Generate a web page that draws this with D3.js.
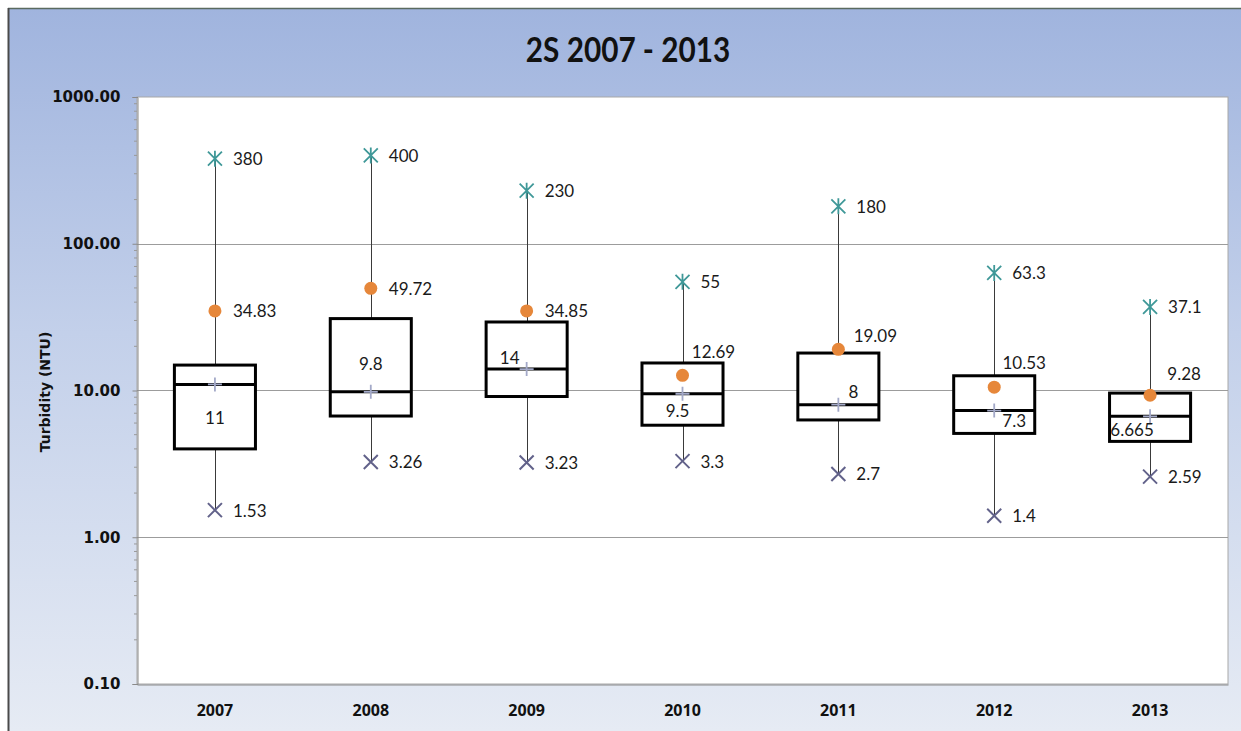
<!DOCTYPE html>
<html><head><meta charset="utf-8">
<script src="https://cdn.jsdelivr.net/npm/d3@7"></script>
<style>
html,body{margin:0;padding:0;background:#fff;}
svg{display:block;}
</style></head>
<body>
<svg id="chart" width="1241" height="731"></svg>
<script>
// ---- data ----
const categories = ["2007","2008","2009","2010","2011","2012","2013"];
const maxValues = [380, 400, 230, 55, 180, 63.3, 37.1];
const q3Values = [14.9, 30.9, 29.3, 15.4, 18.0, 12.6, 9.6];
const medianValues = [11, 9.8, 14, 9.5, 8, 7.3, 6.665];
const q1Values = [4.0, 6.7, 9.1, 5.8, 6.3, 5.1, 4.5];
const minValues = [1.53, 3.26, 3.23, 3.3, 2.7, 1.4, 2.59];
const meanValues = [34.83, 49.72, 34.85, 12.69, 19.09, 10.53, 9.28];
const yTickValues = [0.1, 1, 10, 100, 1000];
const yTickLabels = ["0.10", "1.00", "10.00", "100.00", "1000.00"];
const titleText = "2S 2007 - 2013";
const yTitle = "Turbidity (NTU)";
// label layout (offsets in px relative to marker)
const meanLabelOffset = [[18,0],[18,0],[18,0],[31,-24],[37,-14],[30,-25],[34,-22]];
const medianLabelOffset = [[0,33],[0,-28],[-17,-12],[-5,17],[15,-13],[20,10],[-18,13]];

const svg = d3.select("#chart");
const W = 1241, H = 731;
const plot = {x0:137, x1:1228, y0:97, y1:684};

// background
const defs = svg.append("defs");
const grad = defs.append("linearGradient").attr("id","bg").attr("x1",0).attr("y1",0).attr("x2",0).attr("y2",1);
grad.append("stop").attr("offset","0%").attr("stop-color","#a0b4de");
grad.append("stop").attr("offset","45%").attr("stop-color","#c3d0ea");
grad.append("stop").attr("offset","100%").attr("stop-color","#e6ebf4");
svg.append("rect").attr("x",0).attr("y",0).attr("width",W).attr("height",H).attr("fill","#fff");
svg.append("rect").attr("x",8).attr("y",8).attr("width",W-8).attr("height",H-8).attr("fill","url(#bg)");
svg.append("line").attr("x1",8).attr("x2",W).attr("y1",8.5).attr("y2",8.5).attr("stroke","#5a6a60").attr("stroke-width",1.5);
svg.append("line").attr("x1",8.5).attr("x2",8.5).attr("y1",8).attr("y2",H).attr("stroke","#4a4a4a").attr("stroke-width",2);

// plot area
svg.append("rect").attr("x",plot.x0).attr("y",plot.y0).attr("width",plot.x1-plot.x0).attr("height",plot.y1-plot.y0)
  .attr("fill","#fff").attr("stroke","#a8a8a8").attr("stroke-width",1);

const x = d3.scaleBand().domain(categories).range([plot.x0, plot.x1]).padding(0);
const y = d3.scaleLog().domain([0.1, 1000]).range([plot.y1, plot.y0]);

// gridlines
svg.append("g").selectAll("line").data(yTickValues.filter(v => v > 0.1 && v < 1000)).join("line")
  .attr("x1",plot.x0).attr("x2",plot.x1)
  .attr("y1",d=>Math.round(y(d))+0.5).attr("y2",d=>Math.round(y(d))+0.5)
  .attr("stroke","#9c9c9c").attr("stroke-width",1);

// y axis
const yAxis = d3.axisLeft(y).tickValues(yTickValues).tickFormat((d,i)=>yTickLabels[i]).tickSize(5).tickPadding(12);
const gy = svg.append("g").attr("transform",`translate(${plot.x0+0.5},0)`).call(yAxis);
gy.select(".domain").attr("stroke","#8a8a8a");
gy.selectAll(".tick line").attr("stroke","#8a8a8a");
gy.selectAll(".tick text").attr("font-family","DejaVu Sans").attr("font-weight","bold").attr("font-size","15px").attr("fill","#111");
// minor ticks
const minor = [];
for (let e = -1; e < 3; e++) for (let m = 2; m <= 9; m++) minor.push(m*Math.pow(10,e));
svg.append("g").selectAll("line").data(minor).join("line")
  .attr("x1",plot.x0-3).attr("x2",plot.x0)
  .attr("y1",d=>y(d)).attr("y2",d=>y(d)).attr("stroke","#9a9a9a").attr("stroke-width",1);

// x axis
const xAxis = d3.axisBottom(x).tickSize(0).tickPadding(20);
const gx = svg.append("g").attr("transform",`translate(0,${plot.y1+0.5})`).call(xAxis);
gx.select(".domain").attr("stroke","#8a8a8a");
gx.selectAll(".tick text").attr("font-family","Open Sans").attr("font-weight","bold").attr("font-size","16px").attr("fill","#111");

// titles
svg.append("text").attr("transform","translate(628,62) scale(0.85,1)").attr("text-anchor","middle")
  .attr("font-family","Lato").attr("font-weight","bold").attr("font-size","35px").attr("fill","#111").text(titleText);
svg.append("text").attr("transform","translate(50,392) rotate(-90)").attr("text-anchor","middle")
  .attr("font-family","DejaVu Sans").attr("font-weight","bold").attr("font-size","14px").attr("fill","#111").text(yTitle);

const data = categories.map((c,i)=>({c, i, max:maxValues[i], q3:q3Values[i], med:medianValues[i], q1:q1Values[i], min:minValues[i], mean:meanValues[i]}));
const cx = d => x(d.c) + x.bandwidth()/2;
const bw = x.bandwidth()*0.52;
const g = svg.append("g");

// whiskers
g.selectAll(".whisker").data(data).join("line")
  .attr("x1",d=>Math.round(cx(d))+0.5).attr("x2",d=>Math.round(cx(d))+0.5)
  .attr("y1",d=>y(d.max)).attr("y2",d=>y(d.min))
  .attr("stroke","#3a3a3a").attr("stroke-width",1);
// boxes
g.selectAll(".box").data(data).join("rect")
  .attr("x",d=>cx(d)-bw/2).attr("width",bw)
  .attr("y",d=>y(d.q3)).attr("height",d=>y(d.q1)-y(d.q3))
  .attr("fill","#fff").attr("stroke","#000").attr("stroke-width",3);
// median line
g.selectAll(".med").data(data).join("line")
  .attr("x1",d=>cx(d)-bw/2).attr("x2",d=>cx(d)+bw/2)
  .attr("y1",d=>y(d.med)).attr("y2",d=>y(d.med))
  .attr("stroke","#000").attr("stroke-width",3);
// median plus marker
const pl = 7;
g.selectAll(".medplus").data(data).join("path")
  .attr("d",d=>{const X=cx(d),Y=y(d.med);return `M${X-pl},${Y}H${X+pl}M${X},${Y-pl}V${Y+pl}`;})
  .attr("stroke","#a3a9c8").attr("stroke-width",1.8).attr("fill","none");
// mean dots
g.selectAll(".mean").data(data).join("circle")
  .attr("cx",cx).attr("cy",d=>y(d.mean)).attr("r",6.5)
  .attr("fill","#e6873a");
// max asterisks
const s = 7;
g.selectAll(".maxm").data(data).join("path")
  .attr("d",d=>{const X=cx(d),Y=y(d.max);return `M${X-s},${Y-s}L${X+s},${Y+s}M${X-s},${Y+s}L${X+s},${Y-s}M${X},${Y-s-1}V${Y+s+1}`;})
  .attr("stroke","#3f9898").attr("stroke-width",1.8).attr("fill","none");
// min X
g.selectAll(".minm").data(data).join("path")
  .attr("d",d=>{const X=cx(d),Y=y(d.min);return `M${X-s},${Y-s}L${X+s},${Y+s}M${X-s},${Y+s}L${X+s},${Y-s}`;})
  .attr("stroke","#62628a").attr("stroke-width",2).attr("fill","none");

// labels
const lbl = sel => sel.attr("font-family","Lato").attr("font-size","17px").attr("fill","#1a1a1a").attr("dominant-baseline","central");
lbl(g.selectAll(".maxl").data(data).join("text").attr("x",d=>cx(d)+18).attr("y",d=>y(d.max)).text(d=>d.max));
lbl(g.selectAll(".minl").data(data).join("text").attr("x",d=>cx(d)+18).attr("y",d=>y(d.min)).text(d=>d.min));
lbl(g.selectAll(".meanl").data(data).join("text")
  .attr("x",d=>cx(d)+meanLabelOffset[d.i][0]).attr("y",d=>y(d.mean)+meanLabelOffset[d.i][1])
  .attr("text-anchor",d=>d.i<3?"start":"middle").text(d=>d.mean.toFixed(2)));
lbl(g.selectAll(".medl").data(data).join("text")
  .attr("x",d=>cx(d)+medianLabelOffset[d.i][0]).attr("y",d=>y(d.med)+medianLabelOffset[d.i][1])
  .attr("text-anchor","middle").text(d=>d.med));
</script>
</body></html>
